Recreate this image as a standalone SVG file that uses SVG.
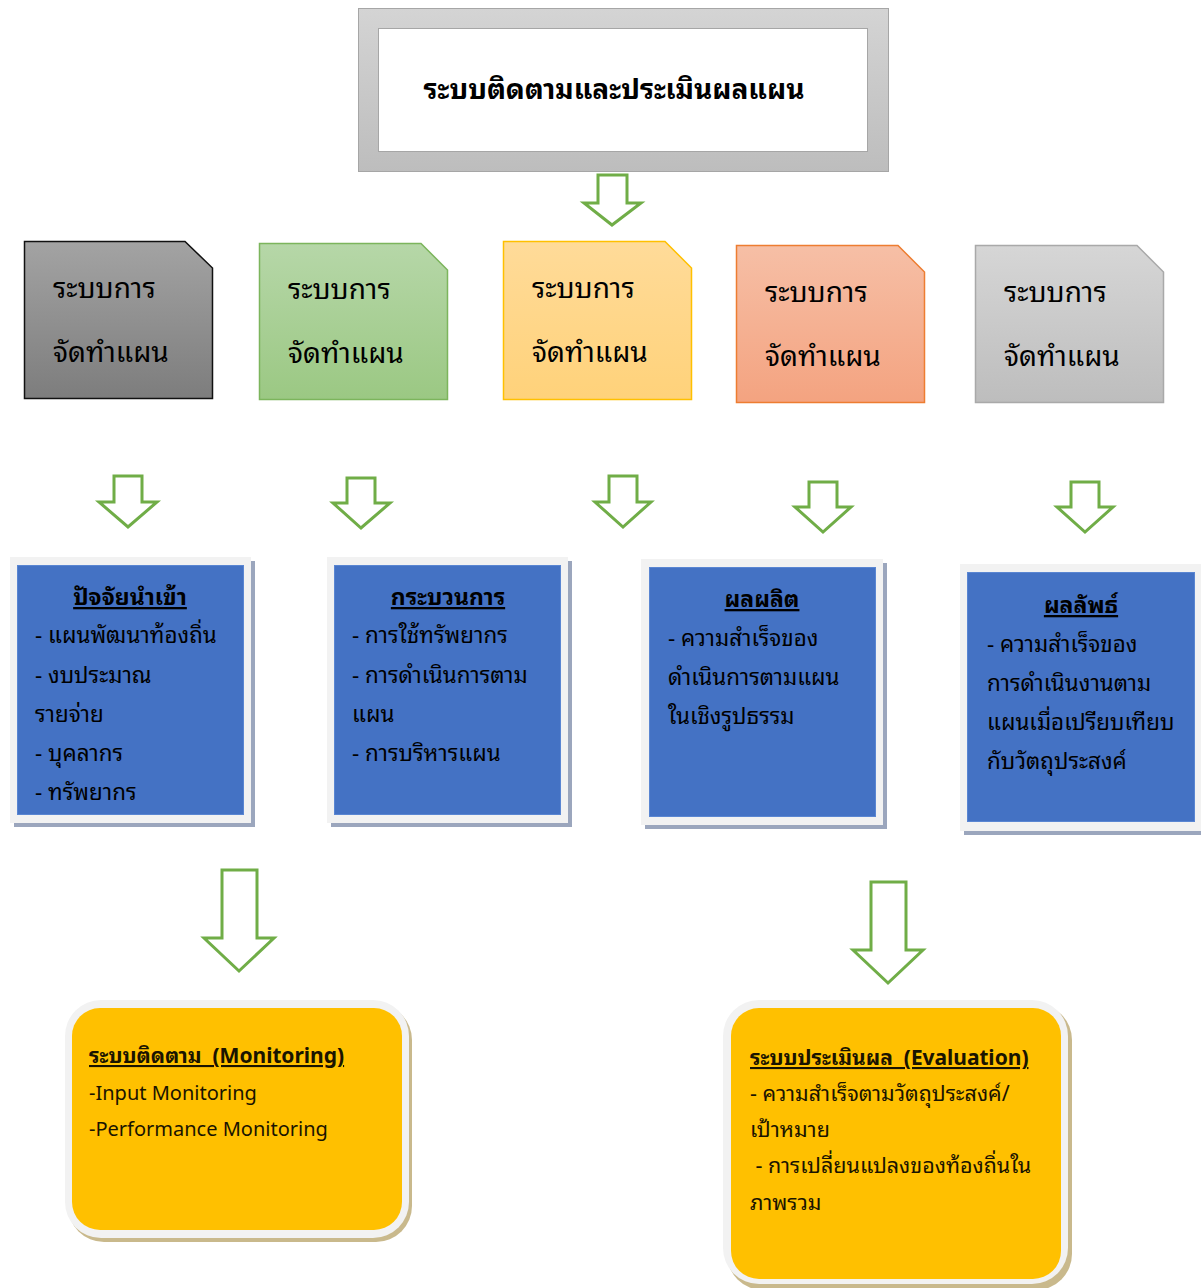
<svg xmlns="http://www.w3.org/2000/svg" width="1201" height="1288" viewBox="0 0 1201 1288">
<defs>
<linearGradient id="gTop" x1="0" y1="0" x2="0" y2="1"><stop offset="0" stop-color="#d4d4d4"/><stop offset="1" stop-color="#bdbdbd"/></linearGradient>
<linearGradient id="gDark" x1="0" y1="0" x2="0" y2="1"><stop offset="0" stop-color="#a3a3a3"/><stop offset="1" stop-color="#7d7d7d"/></linearGradient>
<linearGradient id="gGreen" x1="0" y1="0" x2="0" y2="1"><stop offset="0" stop-color="#b6d7a8"/><stop offset="1" stop-color="#9bc883"/></linearGradient>
<linearGradient id="gYel" x1="0" y1="0" x2="0" y2="1"><stop offset="0" stop-color="#ffdb99"/><stop offset="1" stop-color="#ffd27a"/></linearGradient>
<linearGradient id="gOra" x1="0" y1="0" x2="0" y2="1"><stop offset="0" stop-color="#f6bfa6"/><stop offset="1" stop-color="#f4a380"/></linearGradient>
<linearGradient id="gGray" x1="0" y1="0" x2="0" y2="1"><stop offset="0" stop-color="#d6d6d6"/><stop offset="1" stop-color="#bdbdbd"/></linearGradient>
</defs>
<style>
text{font-family:"Noto Sans Thai Looped","Loma","Garuda","Noto Sans Thai","Noto Sans","DejaVu Sans",sans-serif;fill:#000}
.doc{font-size:28px}
.bt{font-size:22.4px}
.btt{font-size:23px;font-weight:bold;text-decoration:underline}
.yt{font-size:21.5px;fill:#1a1400}
.ye{font-size:20px;fill:#1a1400}
.ytt{font-size:21px;font-weight:bold;text-decoration:underline;fill:#1a1400}
.arr{fill:#fff;stroke:#70ad47;stroke-width:3}
.shB{fill:#9ba6bd}
.frB{fill:#f2f2f2}
.blue{fill:#4472c4;stroke:#5a86d2;stroke-width:1}
.shY{fill:#c9b98c}
.frY{fill:#f2f2f2}
.yel{fill:#ffc000}
</style>

<g id="title">
<rect x="358.5" y="8.5" width="530" height="163" fill="url(#gTop)" stroke="#a6a6a6" stroke-width="1"/>
<rect x="378.5" y="28.5" width="489" height="123" fill="#fff" stroke="#a6a6a6" stroke-width="1"/>
<text x="614" y="99" text-anchor="middle" style="font-size:28px;font-weight:bold">ระบบติดตามและประเมินผลแผน</text>
</g>

<g id="connectors">
<path class="arr" d="M598,175 H627 V203 H641 L612,225 L584,203 H598 Z"/>
<path class="arr" d="M114,476 H142 V502 H157 L128,527 L99,502 H114 Z"/>
<path class="arr" d="M347,478 H375 V503 H390 L361,528 L333,503 H347 Z"/>
<path class="arr" d="M609,476 H637 V502 H651 L623,527 L595,502 H609 Z"/>
<path class="arr" d="M809,482 H837 V507 H851 L823,532 L795,507 H809 Z"/>
<path class="arr" d="M1071,482 H1099 V507 H1113 L1085,532 L1057,507 H1071 Z"/>
<path class="arr" d="M222,870 H257 V938 H274 L239,971 L204,938 H222 Z"/>
<path class="arr" d="M871,882 H906 V950 H923 L888,983 L853,950 H871 Z"/>
</g>

<g id="doc1">
<path d="M24.5,241.5 H185 L212.5,268 V398.5 H24.5 Z" fill="url(#gDark)" stroke="#111" stroke-width="1.5"/>
<text class="doc" x="53" y="298">ระบบการ</text>
<text class="doc" x="53" y="362">จัดทำแผน</text>
</g>
<g id="doc2">
<path d="M259.5,243.5 H421 L447.5,270 V399.5 H259.5 Z" fill="url(#gGreen)" stroke="#7cb55c" stroke-width="1.5"/>
<text class="doc" x="288" y="299">ระบบการ</text>
<text class="doc" x="288" y="363">จัดทำแผน</text>
</g>
<g id="doc3">
<path d="M503.5,241.5 H665 L691.5,268 V399.5 H503.5 Z" fill="url(#gYel)" stroke="#ffc000" stroke-width="1.5"/>
<text class="doc" x="532" y="298">ระบบการ</text>
<text class="doc" x="532" y="362">จัดทำแผน</text>
</g>
<g id="doc4">
<path d="M736.5,245.5 H898 L924.5,272 V402.5 H736.5 Z" fill="url(#gOra)" stroke="#ed7d31" stroke-width="1.5"/>
<text class="doc" x="765" y="302">ระบบการ</text>
<text class="doc" x="765" y="366">จัดทำแผน</text>
</g>
<g id="doc5">
<path d="M975.5,245.5 H1137 L1163.5,272 V402.5 H975.5 Z" fill="url(#gGray)" stroke="#a9a9a9" stroke-width="1.5"/>
<text class="doc" x="1004" y="302">ระบบการ</text>
<text class="doc" x="1004" y="366">จัดทำแผน</text>
</g>

<g id="input">
<rect class="shB" x="14" y="561" width="241" height="266"/>
<rect class="frB" x="10" y="557" width="241" height="266"/>
<rect class="blue" x="17.5" y="565.5" width="226" height="249"/>
<text class="btt" x="130" y="605" text-anchor="middle">ปัจจัยนำเข้า</text>
<text class="bt" x="35" y="643">- แผนพัฒนาท้องถิ่น</text>
<text class="bt" x="35" y="683">- งบประมาณ</text>
<text class="bt" x="35" y="722">รายจ่าย</text>
<text class="bt" x="35" y="761">- บุคลากร</text>
<text class="bt" x="35" y="800">- ทรัพยากร</text>
</g>

<g id="process">
<rect class="shB" x="331" y="561" width="241" height="266"/>
<rect class="frB" x="327" y="557" width="241" height="266"/>
<rect class="blue" x="334.5" y="565.5" width="226" height="249"/>
<text class="btt" x="448" y="605" text-anchor="middle">กระบวนการ</text>
<text class="bt" x="352" y="643">- การใช้ทรัพยากร</text>
<text class="bt" x="352" y="683">- การดำเนินการตาม</text>
<text class="bt" x="352" y="722">แผน</text>
<text class="bt" x="352" y="761">- การบริหารแผน</text>
</g>

<g id="output">
<rect class="shB" x="645" y="563" width="242" height="266"/>
<rect class="frB" x="641" y="559" width="242" height="266"/>
<rect class="blue" x="649.5" y="567.5" width="226" height="249"/>
<text class="btt" x="762" y="607" text-anchor="middle">ผลผลิต</text>
<text class="bt" x="668" y="646">- ความสำเร็จของ</text>
<text class="bt" x="668" y="685">ดำเนินการตามแผน</text>
<text class="bt" x="668" y="724">ในเชิงรูปธรรม</text>
</g>

<g id="outcome">
<rect class="shB" x="964" y="568" width="241" height="267"/>
<rect class="frB" x="960" y="564" width="241" height="267"/>
<rect class="blue" x="967.5" y="572.5" width="227" height="249"/>
<text class="btt" x="1081" y="613" text-anchor="middle">ผลลัพธ์</text>
<text class="bt" x="987" y="652">- ความสำเร็จของ</text>
<text class="bt" x="987" y="691">การดำเนินงานตาม</text>
<text class="bt" x="987" y="730">แผนเมื่อเปรียบเทียบ</text>
<text class="bt" x="987" y="769">กับวัตถุประสงค์</text>
</g>

<g id="monitoring">
<rect class="shY" x="68" y="1004" width="344" height="238" rx="36"/>
<rect class="frY" x="65" y="1000" width="344" height="238" rx="36"/>
<rect class="yel" x="72" y="1008" width="330" height="222" rx="28"/>
<text class="ytt" x="89" y="1063" xml:space="preserve">ระบบติดตาม  (Monitoring)</text>
<text class="ye" x="89" y="1100">-Input Monitoring</text>
<text class="ye" x="89" y="1136">-Performance Monitoring</text>
</g>

<g id="evaluation">
<rect class="shY" x="727" y="1004" width="345" height="286" rx="36"/>
<rect class="frY" x="723" y="1000" width="345" height="284" rx="36"/>
<rect class="yel" x="731" y="1008" width="330" height="271" rx="28"/>
<text class="ytt" x="750" y="1065" xml:space="preserve">ระบบประเมินผล  (Evaluation)</text>
<text class="yt" x="750" y="1101">- ความสำเร็จตามวัตถุประสงค์/</text>
<text class="yt" x="750" y="1137">เป้าหมาย</text>
<text class="yt" x="750" y="1173" xml:space="preserve"> - การเปลี่ยนแปลงของท้องถิ่นใน</text>
<text class="yt" x="750" y="1210">ภาพรวม</text>
</g>
</svg>
